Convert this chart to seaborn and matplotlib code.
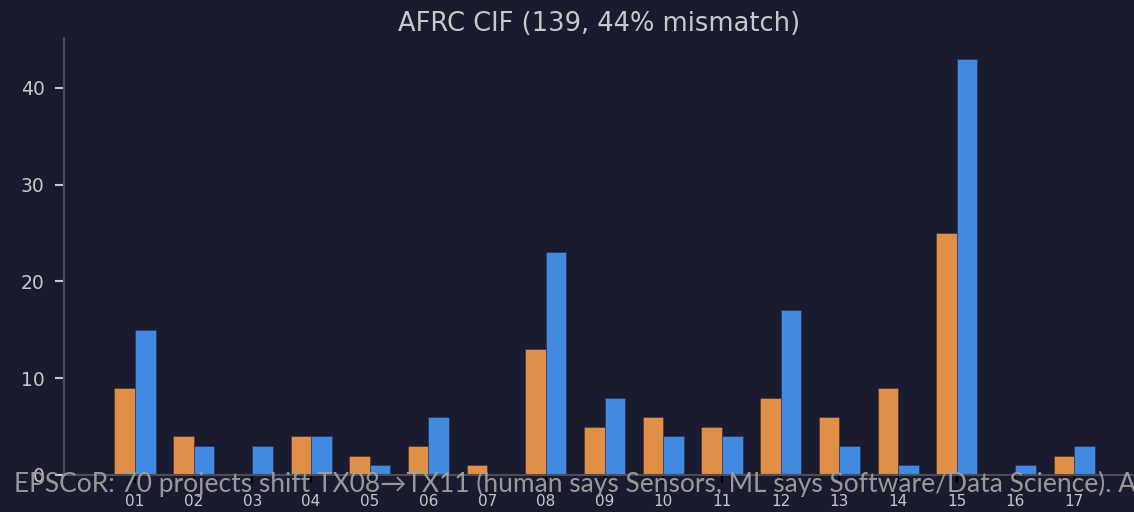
import matplotlib
matplotlib.use("Agg")
import matplotlib.pyplot as plt
import seaborn as sns
import pandas as pd

# Counts per TX code, two raters
codes = ['01', '02', '03', '04', '05', '06', '07', '08', '09',
         '10', '11', '12', '13', '14', '15', '16', '17']
human_counts = [9, 4, 0, 4, 2, 3, 1, 13, 5, 6, 5, 8, 6, 9, 25, 0, 2]
ml_counts = [15, 3, 3, 4, 1, 6, 0, 23, 8, 4, 4, 17, 3, 1, 43, 1, 3]

title = 'AFRC CIF (139, 44% mismatch)'
note = ('EPSCoR: 70 projects shift TX08\u2192TX11 (human says Sensors, '
        'ML says Software/Data Science). A')

bg = '#1a1b2e'
orange = '#df8f46'
blue = '#4289e0'

df = pd.DataFrame({
    'code': codes * 2,
    'count': human_counts + ml_counts,
    'source': ['human'] * len(codes) + ['ML'] * len(codes),
})

sns.set_style('dark')
plt.rcParams['font.family'] = 'sans-serif'
plt.rcParams['font.sans-serif'] = ['DejaVu Sans']

fig = plt.figure(figsize=(11.34, 5.12), dpi=100, facecolor=bg)
ax = fig.add_axes([64 / 1134, 37 / 512, 1 - 64 / 1134, (475 - 38) / 512])
ax.set_facecolor(bg)

sns.barplot(data=df, x='code', y='count', hue='source', order=codes,
            hue_order=['human', 'ML'], palette=[orange, blue],
            width=0.7, gap=0, saturation=1, edgecolor=(0.1, 0.12, 0.25, 0.45),
            linewidth=0.6, legend=False, ax=ax)

ax.set_xlim(-1.21, 17.02)
ax.set_ylim(0, 45.15)
ax.set_yticks([0, 10, 20, 30, 40])
ax.set_xlabel('')
ax.set_ylabel('')
ax.grid(False)

for side in ['top', 'right']:
    ax.spines[side].set_visible(False)
for side in ['left', 'bottom']:
    ax.spines[side].set_visible(True)
    ax.spines[side].set_color('#4d4d55')
    ax.spines[side].set_linewidth(1.5)

ax.tick_params(axis='y', colors='#c8c8c8', labelsize=13.5, length=6.5, width=1.5,
               pad=7.5, left=True)
ax.tick_params(axis='x', colors='black', labelcolor='#c8c8c8', labelsize=11,
               length=6, width=1.5, pad=7.5, bottom=True)

ax.set_title(title, color='#c8c8c8', fontsize=18.5, pad=5)

fig.text(14 / 1134, 20 / 512, note, color='#a0a0a0', alpha=0.95, fontsize=19,
         family=['Lato', 'DejaVu Sans'], ha='left', va='baseline')

fig.savefig('out.png', dpi=100, facecolor=bg)
